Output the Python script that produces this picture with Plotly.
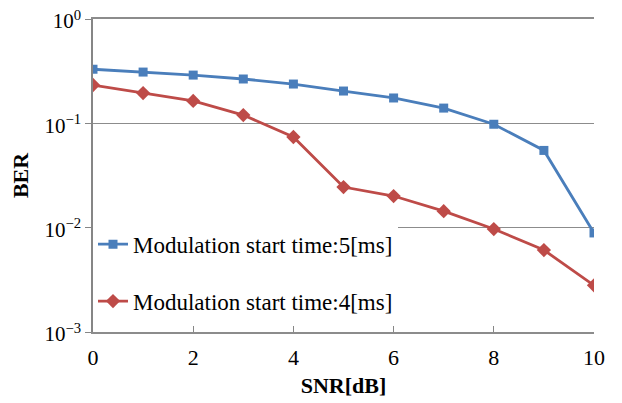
import plotly.graph_objects as go

snr = [0, 1, 2, 3, 4, 5, 6, 7, 8, 9, 10]
ber_5ms = [0.33, 0.31, 0.29, 0.266, 0.238, 0.204, 0.175, 0.14, 0.098, 0.055, 0.0089]
ber_4ms = [0.233, 0.195, 0.164, 0.12, 0.074, 0.0245, 0.0201, 0.0144, 0.0097, 0.0061, 0.0028]
name_5ms = "Modulation start time:5[ms]"
name_4ms = "Modulation start time:4[ms]"
y_tickvals = [1e-3, 1e-2, 1e-1, 1e0]
y_ticktext = ["10<sup>−3</sup>", "10<sup>−2</sup>", "10<sup>−1</sup>", "10<sup>0</sup>"]
x_tickvals = [0, 2, 4, 6, 8, 10]

serif = "Liberation Serif, Times New Roman, serif"

fig = go.Figure()
fig.add_trace(go.Scatter(
    x=snr, y=ber_5ms, name=name_5ms, mode="lines+markers", legendgroup="a",
    line=dict(color="#4A7EBB", width=2.8),
    marker=dict(symbol="square", size=9, color="#4A7EBB"),
))
fig.add_trace(go.Scatter(
    x=snr, y=ber_4ms, name=name_4ms, mode="lines+markers", legendgroup="b",
    line=dict(color="#BE4B48", width=2.8),
    marker=dict(symbol="diamond", size=11, color="#BE4B48"),
))

fig.update_layout(
    width=614, height=395,
    margin=dict(l=85, r=28, t=11, b=71),
    plot_bgcolor="white", paper_bgcolor="white",
    font=dict(family=serif, size=22, color="black"),
    showlegend=True,
    legend=dict(
        x=0.0, y=0.349, xanchor="left", yanchor="top",
        bgcolor="white", font=dict(family=serif, size=23, color="black"),
        tracegroupgap=24, itemwidth=30,
    ),
    xaxis=dict(
        range=[0, 10], tickvals=x_tickvals, showgrid=False, automargin=False,
        showline=True, linecolor="#8C8C8C", linewidth=1.5, mirror=True,
        ticks="inside", ticklen=6, tickcolor="#868686",
        tickfont=dict(family=serif, size=22), ticklabelstandoff=5,
        title=dict(text="<b>SNR[dB]</b>", font=dict(family=serif, size=22), standoff=8),
        zeroline=False,
    ),
    yaxis=dict(
        type="log", range=[-3, 0], tickvals=y_tickvals, ticktext=y_ticktext,
        showgrid=True, gridcolor="#8C8C8C", gridwidth=1.2, automargin=False,
        showline=True, linecolor="#868686", linewidth=1.5,
        ticks="outside", ticklen=6, tickcolor="#868686",
        tickfont=dict(family=serif, size=21), ticklabeloverflow="allow",
        ticklabelshift=2,
        title=dict(text="<b>BER</b>", font=dict(family=serif, size=22), standoff=10),
        zeroline=False,
    ),
)

fig.write_html("out.html")
